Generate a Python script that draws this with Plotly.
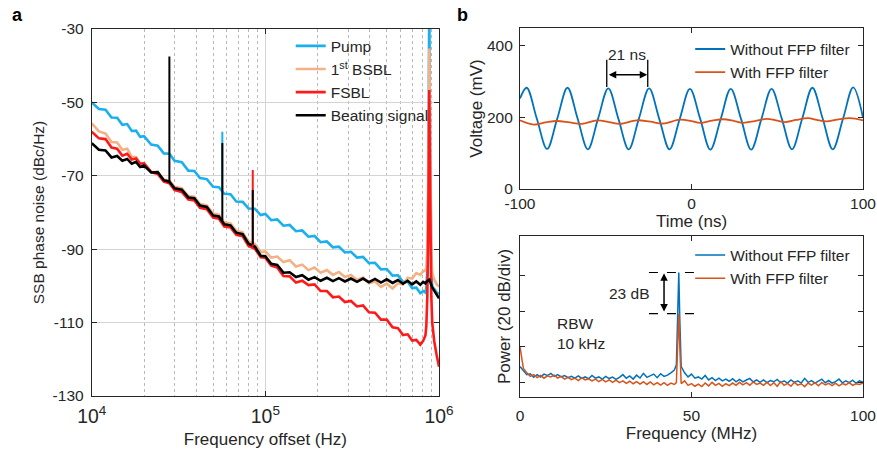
import plotly.graph_objects as go

# ---------------- Panel a data ----------------
freq_khz = [10, 11, 12, 13, 14, 15, 16, 17, 18, 19, 20, 22, 24, 26, 28, 30, 33, 36, 39, 42,
            46, 50, 54, 58, 63, 68, 74, 80, 87, 94, 100, 108, 117, 127, 138, 150, 163, 177, 192, 208,
            226, 245, 265, 287, 311, 337, 365, 395, 428, 463, 500, 540, 580, 620, 660, 700, 740, 780, 810, 835,
            845, 856, 867, 873, 879, 885, 891, 903, 914, 938, 970, 1000]

pump = [-50.0, -51.8, -52.0, -54.1, -54.2, -56.1, -55.9, -57.8, -57.7, -59.4, -59.2, -61.5, -61.8, -63.9, -64.0, -65.9, -66.3, -68.6, -68.7, -70.6,
        -70.9, -73.0, -73.1, -74.9, -75.0, -77.0, -77.1, -78.9, -79.0, -80.7, -80.4, -82.1, -81.9, -83.6, -83.4, -85.1, -84.9, -86.6, -86.4, -88.1,
        -87.9, -89.5, -89.3, -90.9, -90.7, -92.3, -92.1, -93.8, -93.7, -95.5, -95.4, -97.2, -97.1, -98.9, -98.9, -100.6, -100.5, -102.0, -101.4, -101.8,
        -100.5, -96.0, -75.0, -50.0, -20.0, -50.0, -75.0, -96.0, -100.3, -100.8, -101.8, -102.2]

bsbl = [-55.7, -57.9, -58.5, -60.8, -60.9, -62.9, -62.6, -64.9, -64.9, -66.8, -66.5, -68.9, -69.0, -71.1, -71.3, -73.0, -73.4, -75.5, -75.7, -77.7,
        -78.1, -80.3, -80.6, -82.7, -83.0, -85.0, -85.4, -87.9, -88.6, -90.8, -90.6, -92.3, -92.0, -93.5, -93.0, -94.7, -94.2, -95.7, -95.0, -96.4,
        -95.7, -97.0, -96.2, -97.6, -97.0, -98.4, -97.7, -99.3, -98.8, -100.3, -99.4, -100.7, -99.3, -99.6, -97.8, -98.0, -96.5, -97.0, -96.0, -95.8,
        -95.0, -90.0, -72.0, -50.0, -35.3, -50.0, -72.0, -92.0, -96.5, -98.2, -99.6, -100.2]

fsbl = [-58.0, -59.8, -60.0, -62.3, -62.6, -64.5, -64.0, -65.6, -65.3, -66.7, -66.6, -69.0, -69.5, -71.6, -72.0, -73.9, -74.4, -76.5, -76.7, -78.7,
        -79.1, -81.4, -81.7, -83.8, -84.1, -86.1, -86.5, -89.1, -89.9, -92.2, -92.3, -94.5, -95.0, -97.3, -97.4, -99.1, -98.6, -99.8, -99.6, -101.4,
        -101.4, -103.1, -102.9, -104.4, -104.1, -105.6, -105.3, -107.2, -107.3, -109.2, -109.2, -111.3, -111.5, -113.4, -113.2, -114.9, -114.7, -116.0, -115.0, -113.5,
        -111.0, -103.0, -85.0, -65.0, -46.6, -65.0, -85.0, -103.0, -110.0, -115.0, -119.0, -122.0]

beating = [-61.1, -62.9, -63.1, -65.0, -64.6, -65.9, -65.4, -66.7, -66.2, -67.6, -67.2, -69.1, -69.0, -71.2, -71.6, -73.4, -73.8, -75.9, -76.1, -78.1,
           -78.5, -80.8, -81.1, -83.2, -83.5, -85.5, -85.9, -88.5, -89.3, -91.8, -91.9, -94.0, -94.3, -96.4, -96.3, -97.6, -97.1, -98.3, -97.6, -98.6,
           -97.8, -98.7, -97.9, -98.8, -98.0, -98.9, -98.0, -99.0, -98.1, -99.1, -98.2, -99.2, -98.4, -99.4, -98.6, -99.6, -98.8, -99.7, -98.9, -99.3,
           -98.9, -98.7, -98.6, -98.5, -98.3, -98.6, -99.0, -99.8, -100.4, -101.3, -102.4, -103.4]

# narrow spurs (frequency kHz, base dB, top dB)
beat_spur_khz = [28.0, 56.5, 84.6]
beat_spur_base = [-72.0, -82.2, -88.7]
beat_spur_top = [-37.5, -61.1, -73.9]
pump_spur_khz = [56.5]
pump_spur_base = [-74.3]
pump_spur_top = [-58.0]
fsbl_spur_khz = [84.6]
fsbl_spur_base = [-89.3]
fsbl_spur_top = [-68.4]

a_ytick_vals = [-130, -110, -90, -70, -50, -30]
a_ytick_text = ["-130", "-110", "-90", "-70", "-50", "-30"]

# ---------------- Panel b (top) data ----------------
t_wo = [-100, -96.1, -90.2, -84.2, -78.3, -72.3, -66.4, -60.4, -54.5, -48.5, -42.6, -36.6, -30.7, -24.7,
        -18.8, -12.8, -6.9, -0.9, 5.1, 11.0, 17.0, 22.9, 28.9, 34.8, 40.8, 46.7, 52.7, 58.6, 64.6, 70.5,
        76.5, 82.4, 88.4, 94.3, 100]
v_wo = [253, 283, 197, 112, 196, 283, 197, 111, 196, 281, 196, 111, 196, 281,
        196, 111, 195, 280, 196, 110, 195, 280, 196, 110, 196, 280, 196, 111, 197, 283,
        197, 111, 197, 284, 200]
t_w = [-100, -92, -85, -78.5, -71, -64, -55, -48, -41.7, -32, -24, -16.6, -6.7, 0, 5,
       12, 18.4, 25, 30, 37, 43.8, 50, 54.5, 61, 68, 73, 78.8, 85, 92.4, 100]
v_w = [192, 180, 186, 190, 186, 182, 192, 187, 182, 192, 188, 183, 194, 190, 185,
       191, 195, 190, 185, 190, 196, 191, 187, 193, 198, 193, 189, 194, 198, 192]
b_xtick_vals = [-100, 0, 100]
b_xtick_text = ["-100", "0", "100"]

# ---------------- Panel b (bottom) data ----------------
f_mhz = [0, 1, 2, 3, 4, 5, 6, 7, 8, 9, 10, 11, 12, 13, 14, 15, 16, 17, 18, 19, 20,
         21, 22, 23, 24, 25, 26, 27, 28, 29, 30, 31, 32, 33, 34, 35, 36, 37, 38, 39, 40,
         41, 42, 43, 44, 45, 45.6, 46.0, 46.3, 46.6, 47, 48, 49, 50, 51, 52, 53, 54, 55, 56,
         57, 58, 59, 60, 61, 62, 63, 64, 65, 66, 67, 68, 69, 70, 71, 72, 73, 74, 75, 76,
         77, 78, 79, 80, 81, 82, 83, 84, 85, 86, 87, 88, 89, 90, 91, 92, 93, 94, 95, 96,
         97, 98, 99, 100]
p_wo = [-71, -73.5, -75.5, -75, -77, -75.5, -76.8, -75.2, -76, -74.8, -76.5, -75.5, -76.8, -76, -77.2, -76.4, -77.5, -76.2, -77.6, -76.8, -77.8,
        -76, -77.5, -76.8, -78, -76.5, -77.7, -76.9, -78.2, -77, -75.5, -77.5, -76.2, -78, -75.8, -77.4, -74.8, -77, -76, -75.2, -77.2,
        -75, -76.5, -75.8, -74.5, -73, -70, -40, -18.4, -45, -71, -74.5, -76.8, -75.2, -77.5, -76.8, -78, -76, -78.5, -77.2,
        -78.8, -77.5, -79, -78, -79.2, -77.8, -79.5, -78.2, -79.6, -78.5, -77.6, -79.6, -78.4, -79.8, -78.5, -80, -78.8, -79.5, -78.2, -80,
        -79, -80.2, -78.5, -79.8, -79, -80.2, -77.6, -79.8, -78.8, -80.2, -79, -78, -80, -78.8, -80.2, -79.4, -78, -80.1, -79, -80,
        -78.6, -80.3, -79, -79.6]
p_w = [-60, -72, -74.5, -76.5, -75.5, -77.2, -76, -77.5, -76.2, -76.8, -75.8, -77.4, -76.5, -78, -77, -78.3, -77.4, -78.8, -77.2, -78.5, -77.8,
       -79, -78, -79.4, -78.2, -79.5, -78.4, -79.8, -78.6, -80, -79, -80.4, -79.2, -80.6, -79.4, -80.8, -79.5, -81, -79.6, -81.2, -80,
       -81.4, -80, -81.5, -80.2, -81, -80, -62, -41.3, -60, -80.5, -79, -81.5, -80.5, -82, -80.8, -82.2, -80.2, -81.8, -79.8,
       -81.5, -80.4, -82, -80.6, -81.6, -80.2, -81.5, -79.8, -81.2, -80, -81.4, -79.6, -81, -80.2, -81.5, -79.8, -81.6, -80, -82, -79.4,
       -81.5, -80.4, -82, -79.8, -81.4, -80.6, -82.2, -80.2, -81.4, -80, -81.7, -79.9, -81.3, -80.4, -81.6, -80.3, -81.8, -80.5, -81.2, -80,
       -81.5, -80.6, -81, -80.2]

# ---------------- styles ----------------
FONT = "Liberation Sans, Arial, sans-serif"
C_PUMP = "#1AB0EE"
C_BSBL = "#F4B183"
C_FSBL = "#FF1A1A"
C_BEAT = "#000000"
C_WO = "#0072BD"
C_W = "#D95319"
AX = "#262626"

freq_hz = [f * 1e3 for f in freq_khz]


def spur_xy(fk, base, top):
    xs, ys = [], []
    for f, b, t in zip(fk, base, top):
        xs += [f * 1e3, f * 1e3, None]
        ys += [b, t, None]
    return xs, ys


fig = go.Figure()

for name, ys, col in [("Pump", pump, C_PUMP), ("1<sup>st</sup> BSBL", bsbl, C_BSBL),
                      ("FSBL", fsbl, C_FSBL), ("Beating signal", beating, C_BEAT)]:
    fig.add_trace(go.Scatter(x=freq_hz, y=ys, mode="lines", name=name,
                             line=dict(color=col, width=2.6), xaxis="x", yaxis="y",
                             legend="legend"))

for fk, b, t, col in [(pump_spur_khz, pump_spur_base, pump_spur_top, C_PUMP),
                      (fsbl_spur_khz, fsbl_spur_base, fsbl_spur_top, C_FSBL),
                      (beat_spur_khz, beat_spur_base, beat_spur_top, C_BEAT)]:
    xs, ys = spur_xy(fk, b, t)
    fig.add_trace(go.Scatter(x=xs, y=ys, mode="lines", showlegend=False,
                             line=dict(color=col, width=2), xaxis="x", yaxis="y"))

fig.add_trace(go.Scatter(x=t_wo, y=v_wo, mode="lines", name="Without FFP filter",
                         line=dict(color=C_WO, width=1.8, shape="spline"),
                         xaxis="x2", yaxis="y2", legend="legend2"))
fig.add_trace(go.Scatter(x=t_w, y=v_w, mode="lines", name="With FFP filter",
                         line=dict(color=C_W, width=1.8, shape="spline"),
                         xaxis="x2", yaxis="y2", legend="legend2"))

fig.add_trace(go.Scatter(x=f_mhz, y=p_wo, mode="lines", name="Without FFP filter",
                         line=dict(color=C_WO, width=1.5), xaxis="x3", yaxis="y3",
                         legend="legend3"))
fig.add_trace(go.Scatter(x=f_mhz, y=p_w, mode="lines", name="With FFP filter",
                         line=dict(color=C_W, width=1.5), xaxis="x3", yaxis="y3",
                         legend="legend3"))

axis_common = dict(showline=True, linecolor=AX, linewidth=1, mirror="ticks", ticks="inside",
                   ticklen=5, tickcolor=AX, zeroline=False, automargin=False,
                   tickfont=dict(family=FONT, size=15.5, color="#262626"))

title_font = dict(family=FONT, size=17, color="#262626")

fig.update_layout(
    width=877, height=450, autosize=False,
    margin=dict(l=0, r=0, t=0, b=0, pad=0),
    paper_bgcolor="white", plot_bgcolor="white",
    font=dict(family=FONT, size=15.5, color="#262626"),
    xaxis=dict(axis_common, type="log", range=[4, 6], dtick=1, exponentformat="power",
               domain=[0.1046, 0.5006], anchor="y", ticklabelstandoff=4,
               showgrid=True, gridcolor="#d4d4d4", gridwidth=1,
               minor=dict(dtick="D1", showgrid=True, gridcolor="#b8b8b8", griddash="dot", ticks=""),
               title=dict(text="Frequency offset (Hz)", font=title_font, standoff=6)),
    yaxis=dict(axis_common, range=[-130, -30], tickvals=a_ytick_vals, ticktext=a_ytick_text,
               domain=[0.12, 0.9356], anchor="x", ticklabelstandoff=4,
               showgrid=True, gridcolor="#d4d4d4",
               title=dict(text="SSB phase noise (dBc/Hz)", font=dict(family=FONT, size=15.5, color="#262626"), standoff=4)),
    xaxis2=dict(axis_common, range=[-100, 100], tickvals=b_xtick_vals, ticktext=b_xtick_text,
                domain=[0.5929, 0.984], anchor="y2", showgrid=False,
                title=dict(text="Time (ns)", font=title_font, standoff=2)),
    yaxis2=dict(axis_common, range=[0, 450], tickvals=[0, 200, 400], domain=[0.58, 0.9378],
                anchor="x2", showgrid=False, ticklabelstandoff=3,
                title=dict(text="Voltage (mV)", font=title_font, standoff=0)),
    xaxis3=dict(axis_common, range=[0, 100], tickvals=[0, 50, 100], domain=[0.5929, 0.984],
                anchor="y3", showgrid=False, ticklabelstandoff=4,
                title=dict(text="Frequency (MHz)", font=title_font, standoff=2)),
    yaxis3=dict(axis_common, range=[-88, 2], tickvals=[-80, -60, -40, -20], showticklabels=False,
                domain=[0.1178, 0.4756], anchor="x3", showgrid=False,
                title=dict(text="Power (20 dB/div)", font=title_font, standoff=4)),
    legend=dict(x=0.3315, y=0.935, xanchor="left", yanchor="top", bgcolor="rgba(0,0,0,0)",
                font=dict(family=FONT, size=15.5), tracegroupgap=0, itemwidth=30),
    legend2=dict(x=0.787, y=0.928, xanchor="left", yanchor="top", bgcolor="rgba(0,0,0,0)",
                 font=dict(family=FONT, size=15.5), tracegroupgap=0, itemwidth=30),
    legend3=dict(x=0.787, y=0.47, xanchor="left", yanchor="top", bgcolor="rgba(0,0,0,0)",
                 font=dict(family=FONT, size=15.5), tracegroupgap=0, itemwidth=30),
    showlegend=True,
)

shapes = [
    dict(type="line", xref="x2", yref="y2", x0=-49.4, x1=-49.4, y0=285, y1=361, line=dict(color="black", width=1.3)),
    dict(type="line", xref="x2", yref="y2", x0=-25.5, x1=-25.5, y0=285, y1=361, line=dict(color="black", width=1.3)),
    dict(type="line", xref="x3", yref="y3", x0=37.6, x1=51, y0=-18.4, y1=-18.4, line=dict(color="black", width=1.2, dash="dash")),
    dict(type="line", xref="x3", yref="y3", x0=37.6, x1=51, y0=-41.4, y1=-41.4, line=dict(color="black", width=1.2, dash="dash")),
]
fig.update_layout(shapes=shapes)

annotations = [
    dict(text="<b>a</b>", xref="paper", yref="paper", x=10 / 877, y=1 - 15 / 450, xanchor="left",
         yanchor="middle", showarrow=False, font=dict(family=FONT, size=18, color="black")),
    dict(text="<b>b</b>", xref="paper", yref="paper", x=455 / 877, y=1 - 15 / 450, xanchor="left",
         yanchor="middle", showarrow=False, font=dict(family=FONT, size=18, color="black")),
    dict(text="21 ns", xref="x2", yref="y2", x=-37.5, y=375, showarrow=False, font=dict(family=FONT, size=15.5)),
    dict(text="", xref="x2", yref="y2", x=-25.8, y=319, ax=-49.1, ay=319, axref="x2", ayref="y2",
         showarrow=True, arrowhead=2, arrowside="end+start", arrowsize=1, arrowwidth=1.5, arrowcolor="black",
         standoff=0, startstandoff=0),
    dict(text="", xref="x3", yref="y3", x=42, y=-18.8, ax=42, ay=-41.0, axref="x3", ayref="y3",
         showarrow=True, arrowhead=2, arrowside="end+start", arrowsize=1, arrowwidth=1.5, arrowcolor="black",
         standoff=0, startstandoff=0),
    dict(text="23 dB", xref="x3", yref="y3", x=38.6, y=-30.2, xanchor="right", showarrow=False,
         font=dict(family=FONT, size=15.5)),
    dict(text="RBW<br>10 kHz", xref="x3", yref="y3", x=10.2, y=-52.6, xanchor="left", align="left",
         showarrow=False, font=dict(family=FONT, size=15.5)),
]
fig.update_layout(annotations=annotations)

fig.write_html("out.html", config={"displayModeBar": False},
               post_script="document.body.style.margin='0px';")
